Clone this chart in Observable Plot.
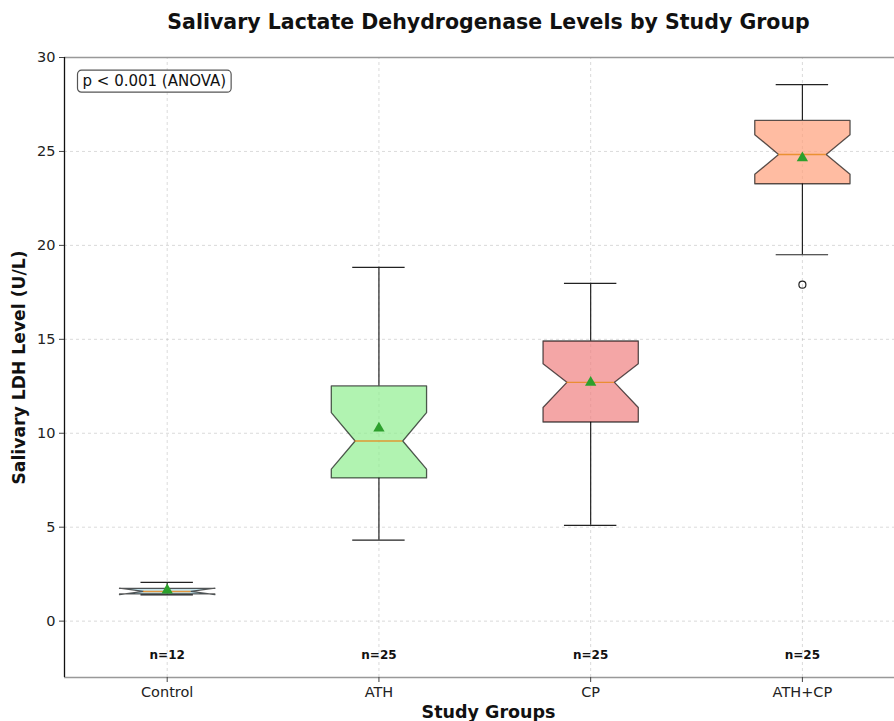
<!DOCTYPE html>
<html>
<head>
<meta charset="utf-8">
<script src="https://cdn.jsdelivr.net/npm/d3@7"></script>
<script src="https://cdn.jsdelivr.net/npm/@observablehq/plot@0.6"></script>
<style>
  html, body { margin: 0; padding: 0; background: #fff; overflow: hidden; }
  #chart svg { font-family: "DejaVu Sans", sans-serif; display: block; }
</style>
</head>
<body>
<div id="chart"></div>
<script>
// ---- data ----
const groups = ["Control", "ATH", "CP", "ATH+CP"];
const nCounts = [12, 25, 25, 25];
const whiskerLow = [1.40, 4.31, 5.10, 19.50];
const q1 = [1.45, 7.62, 10.60, 23.28];
const median = [1.58, 9.59, 12.71, 24.84];
const q3 = [1.74, 12.52, 14.91, 26.65];
const whiskerHigh = [2.06, 18.83, 17.98, 28.56];
const means = [1.65, 10.27, 12.70, 24.65];
const notchLow = [1.41, 8.09, 11.37, 23.78];
const notchHigh = [1.76, 11.10, 13.70, 25.89];
const outlierGroups = ["ATH+CP"];
const outlierValues = [17.91];
const fills = ["lightblue", "lightgreen", "lightcoral", "lightsalmon"];
const yTicks = [0, 5, 10, 15, 20, 25, 30];
const titleText = "Salivary Lactate Dehydrogenase Levels by Study Group";
const yLabel = "Salivary LDH Level (U/L)";
const xLabel = "Study Groups";
const pText = "p < 0.001 (ANOVA)";

// ---- derived tables ----
const boxW = 0.45, hw = boxW / 2, nw = boxW / 4;
const xMin = 0.515, xMax = 4.52;
const stats = groups.map((g, i) => ({
  group: g, pos: i + 1, n: nCounts[i],
  lo: whiskerLow[i], q1: q1[i], med: median[i], q3: q3[i], hi: whiskerHigh[i],
  mean: means[i], nlo: notchLow[i], nhi: notchHigh[i], fill: fills[i]
}));
function polygon(s) {
  const p = s.pos;
  return [
    [p - hw, s.q1], [p - hw, s.nlo], [p - nw, s.med], [p - hw, s.nhi], [p - hw, s.q3],
    [p + hw, s.q3], [p + hw, s.nhi], [p + nw, s.med], [p + hw, s.nlo], [p + hw, s.q1],
    [p - hw, s.q1]
  ].map(([x, y]) => ({x, y}));
}
const outliers = outlierGroups.map((g, i) => ({pos: groups.indexOf(g) + 1, value: outlierValues[i]}));

const plot = Plot.plot({
  width: 894,
  height: 721,
  marginTop: 57,
  marginBottom: 44,
  marginLeft: 64,
  marginRight: -18,
  style: {fontFamily: "DejaVu Sans, sans-serif", overflow: "visible"},
  x: {domain: [xMin, xMax], axis: null},
  y: {domain: [-3, 30], axis: null},
  marks: [
    // grid
    Plot.ruleY(yTicks, {stroke: "#b0b0b0", strokeOpacity: 0.6, strokeDasharray: "3,3", strokeWidth: 0.8}),
    Plot.ruleX(stats, {x: "pos", y1: -3, y2: 30, stroke: "#b0b0b0", strokeOpacity: 0.6, strokeDasharray: "3,3", strokeWidth: 0.8}),
    // whiskers
    Plot.ruleX(stats, {x: "pos", y1: "q3", y2: "hi", stroke: "#222", strokeWidth: 1.2}),
    Plot.ruleX(stats, {x: "pos", y1: "lo", y2: "q1", stroke: "#222", strokeWidth: 1.2}),
    Plot.ruleY(stats, {y: "hi", x1: d => d.pos - nw * 1.1, x2: d => d.pos + nw * 1.1, stroke: "#222", strokeWidth: 1.2}),
    Plot.ruleY(stats, {y: "lo", x1: d => d.pos - nw * 1.1, x2: d => d.pos + nw * 1.1, stroke: "#222", strokeWidth: 1.2}),
    // notched boxes
    ...stats.map(s => Plot.line(polygon(s), {x: "x", y: "y", fill: s.fill, fillOpacity: 0.7, stroke: "#000", strokeOpacity: 0.65, strokeWidth: 1.3, curve: "linear"})),
    // medians
    Plot.ruleY(stats, {y: "med", x1: d => d.pos - nw, x2: d => d.pos + nw, stroke: "#e8891e", strokeOpacity: 0.85, strokeWidth: 1.4}),
    // means
    Plot.dot(stats, {x: "pos", y: "mean", symbol: "triangle", fill: "#2ca02c", r: 4.2}),
    // outliers
    Plot.dot(outliers, {x: "pos", y: "value", stroke: "#222", fill: "none", r: 3.5, strokeWidth: 1.2}),
    // n labels
    Plot.text(stats, {x: "pos", y: -1.8, text: d => `n=${d.n}`, fontWeight: "bold", fontSize: 12, fill: "#111"}),
    // spines
    Plot.ruleY([30], {stroke: "#999", strokeWidth: 1.4}),
    Plot.ruleY([-3], {stroke: "#999", strokeWidth: 1.6}),
    Plot.ruleX([xMin], {y1: -3, y2: 30, stroke: "#111", strokeWidth: 1.3}),
    // axes
    Plot.axisY({ticks: yTicks, tickSize: 5, tickPadding: 4, fontSize: 14.5, stroke: "#444", color: "#222", label: null}),
    Plot.axisX({ticks: [1, 2, 3, 4], tickFormat: d => groups[d - 1], tickSize: 5, tickPadding: 4, fontSize: 14.5, stroke: "#444", color: "#222", label: null}),
    // title & labels
    Plot.text([titleText], {frameAnchor: "top", dy: -43, fontSize: 20.5, fontWeight: "bold", fill: "#111"}),
    Plot.text([yLabel], {frameAnchor: "left", dx: -45, rotate: -90, textAnchor: "middle", fontSize: 17.2, fontWeight: "bold", fill: "#111"}),
    Plot.text([xLabel], {frameAnchor: "bottom", dy: 40, fontSize: 17.5, fontWeight: "bold", fill: "#111"}),
    Plot.text([pText], {frameAnchor: "top-left", dx: 18, dy: 18, fontSize: 15, fill: "#111", className: "pval"})
  ]
});
document.getElementById("chart").appendChild(plot);

// rounded box behind the p-value annotation, sized from the rendered text
const pt = plot.querySelector("g.pval text") || plot.querySelector(".pval text");
if (pt) {
  const bb = pt.getBBox();
  const g = pt.closest("g");
  const rect = document.createElementNS("http://www.w3.org/2000/svg", "rect");
  rect.setAttribute("x", bb.x - 5);
  rect.setAttribute("y", bb.y - 2);
  rect.setAttribute("width", bb.width + 10);
  rect.setAttribute("height", bb.height + 4);
  rect.setAttribute("rx", 4);
  rect.setAttribute("fill", "#fff");
  rect.setAttribute("stroke", "#555");
  rect.setAttribute("stroke-width", 1.2);
  const tf = pt.getAttribute("transform");
  if (tf) rect.setAttribute("transform", tf);
  g.insertBefore(rect, pt);
}
</script>
</body>
</html>
